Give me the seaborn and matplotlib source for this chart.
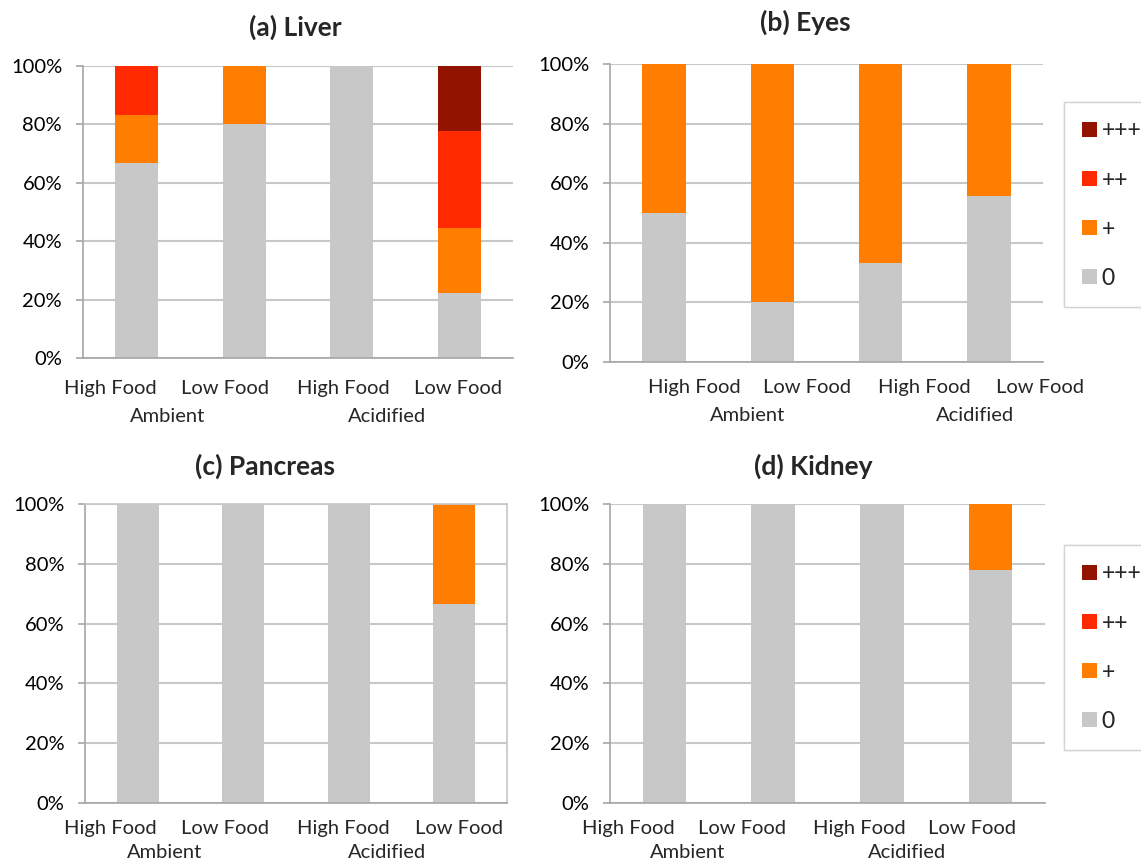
import matplotlib
matplotlib.use("Agg")
import matplotlib.pyplot as plt
from matplotlib.patches import Patch
from matplotlib.ticker import PercentFormatter
import seaborn as sns

conditions = ["Ambient-High", "Ambient-Low", "Acidified-High", "Acidified-Low"]
food_labels = ["High Food", "Low Food", "High Food", "Low Food"]
group_labels = ["Ambient", "Acidified"]
scores = ["0", "+", "++", "+++"]

# percent of fish per lesion score
liver_0 = [66.7, 80.0, 100.0, 22.2]
liver_p1 = [16.7, 20.0, 0.0, 22.2]
liver_p2 = [16.6, 0.0, 0.0, 33.4]
liver_p3 = [0.0, 0.0, 0.0, 22.2]

eyes_0 = [50.0, 20.0, 33.3, 55.6]
eyes_p1 = [50.0, 80.0, 66.7, 44.4]

pancreas_0 = [100.0, 100.0, 100.0, 66.7]
pancreas_p1 = [0.0, 0.0, 0.0, 33.3]

kidney_0 = [100.0, 100.0, 100.0, 77.8]
kidney_p1 = [0.0, 0.0, 0.0, 22.2]

colors = {"0": "#c8c8c8", "+": "#ff7d00", "++": "#ff2a00", "+++": "#911300"}

sns.set_theme(style="white")
plt.rcParams["font.family"] = ["Lato", "DejaVu Sans"]

fig = plt.figure(figsize=(11.41, 8.61), dpi=100)

# axes rect, title pos, tick label x, group label x, label rows y, framed
panels = [
    ("(a) Liver", [liver_0, liver_p1, liver_p2, liver_p3],
     [0.0727, 0.5842, 0.3769, 0.3391], (295, 27),
     [-0.25, 0.82, 1.92, 2.99], [0.29, 2.33], (-0.103, -0.199), False),
    ("(b) Eyes", [eyes_0, eyes_p1],
     [0.5346, 0.5796, 0.3795, 0.3461], (805, 22),
     [0.28, 1.32, 2.40, 3.47], [0.77, 2.87], (-0.087, -0.181), False),
    ("(c) Pancreas", [pancreas_0, pancreas_p1],
     [0.0745, 0.0674, 0.3699, 0.3473], (265, 466),
     [-0.26, 0.83, 1.95, 3.04], [0.25, 2.36], (-0.084, -0.164), True),
    ("(d) Kidney", [kidney_0, kidney_p1],
     [0.5346, 0.0674, 0.3812, 0.3473], (813, 466),
     [-0.33, 0.71, 1.79, 2.83], [0.21, 2.23], (-0.084, -0.164), False),
]

for title, series, rect, tpos, tick_x, group_x, rows, box in panels:
    ax = fig.add_axes(rect)
    # stacked bars: draw cumulative totals from the top segment down
    cum = []
    running = [0.0] * len(conditions)
    for s in series:
        running = [a + b for a, b in zip(running, s)]
        cum.append(running)
    for i in range(len(series) - 1, -1, -1):
        sns.barplot(x=conditions, y=cum[i], order=conditions, color=colors[scores[i]],
                    width=0.4, saturation=1, linewidth=0, errorbar=None, ax=ax)
    ax.set_ylim(0, 100)
    ax.set_xlim(-0.5, 3.5)
    ax.set_yticks(range(0, 101, 20))
    ax.yaxis.set_major_formatter(PercentFormatter(decimals=0))
    ax.yaxis.grid(True, color="#c8c8c8", linewidth=1.5)
    ax.set_axisbelow(True)
    ax.set_xticks([])
    ax.set_xlabel("")
    ax.set_ylabel("")
    ax.tick_params(axis="y", left=True, length=5, width=1.2, color="#a6a6a6",
                   pad=10, labelsize=14.5, labelcolor="black")
    for side in ["left", "bottom"]:
        ax.spines[side].set_color("#a6a6a6")
        ax.spines[side].set_linewidth(1.2)
    ax.spines["top"].set_visible(box)
    ax.spines["right"].set_visible(box)
    if box:
        ax.spines["top"].set_color("#c8c8c8")
        ax.spines["right"].set_color("#c8c8c8")
    tr = ax.get_xaxis_transform()
    for x, lab in zip(tick_x, food_labels):
        ax.text(x, rows[0], lab, transform=tr, ha="center", va="center", fontsize=14.5)
    for x, lab in zip(group_x, group_labels):
        ax.text(x, rows[1], lab, transform=tr, ha="center", va="center", fontsize=14.5)
    fig.text(tpos[0] / 1141, 1 - tpos[1] / 861, title, ha="center", va="center",
             fontsize=19, fontweight="bold")

handles = [Patch(facecolor=colors[s], edgecolor="none", label=s) for s in reversed(scores)]
for top in [102, 545]:
    leg = fig.legend(handles=handles, loc="upper left",
                     bbox_to_anchor=(1064 / 1141, 1 - top / 861), fontsize=16.5,
                     frameon=True, fancybox=False, edgecolor="#d0d0d0",
                     handlelength=0.65, handleheight=0.65, handletextpad=0.2,
                     labelspacing=1.23, borderpad=0.8, borderaxespad=0)
    leg.get_frame().set_linewidth(1.0)
    fig.add_artist(leg)

fig.savefig("out.png", dpi=100)
